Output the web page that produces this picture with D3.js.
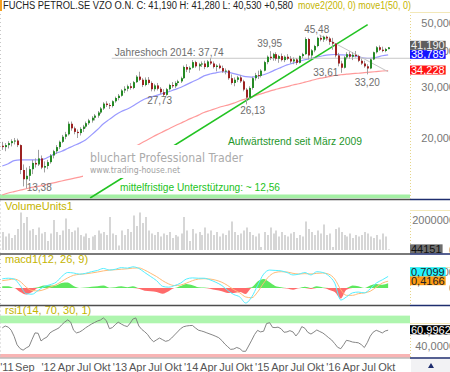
<!DOCTYPE html>
<html>
<head>
<meta charset="utf-8">
<script src="https://cdn.jsdelivr.net/npm/d3@7"></script>
<style>
  html, body { margin: 0; padding: 0; background: #fff; }
  svg { display: block; font-family: "Liberation Sans", Arial, sans-serif; }
</style>
</head>
<body>
<div id="chart"></div>
<script>
// ---- data (two candles per month, May 2011 .. first half Oct 2016) ----
var firstMonth = new Date(2011, 4, 1), endMonth = new Date(2016, 10, 1);

var open = [18.8,18.6,18.9,19.2,19.5,19.6,18.9,15.5,14.4,14.8,
  15.6,16.4,16.2,17.0,15.8,16.0,16.5,17.4,18.0,18.6,
  19.4,20.2,20.6,22.4,21.6,21.0,20.8,21.5,21.9,22.5,
  23.0,23.5,23.9,24.5,25.3,26.3,26.0,25.8,26.8,27.5,
  28.0,29.2,29.6,30.2,29.8,31.2,32.6,31.8,30.5,31.8,
  31.0,29.5,30.4,29.6,28.8,28.2,29.5,30.5,30.2,31.0,
  31.4,32.2,35.2,34.5,35.0,36.6,35.4,36.0,36.2,35.2,
  36.8,36.2,35.2,35.6,34.9,34.0,34.2,32.2,31.0,31.8,
  32.4,31.4,29.4,27.6,29.8,32.2,33.0,32.8,34.2,36.6,
  38.2,37.8,39.0,37.6,38.4,37.2,38.2,37.6,36.8,37.4,
  36.4,38.4,39.0,44.0,38.6,40.2,41.6,44.4,43.8,44.8,
  44.2,43.0,42.4,38.6,36.2,35.0,38.0,39.0,38.2,38.8,
  38.4,37.0,36.2,35.4,34.8,37.4,39.6,41.2,40.4,40.0,
  40.6];
var high = [19.4,19.2,19.5,19.8,20.0,19.9,19.0,16.2,15.8,16.0,
  16.8,17.0,18.2,17.4,16.6,16.8,17.6,18.2,18.9,19.6,
  20.5,21.0,22.8,22.8,21.9,21.4,21.8,22.2,22.8,23.3,
  23.8,24.2,24.8,25.6,26.6,26.8,26.4,27.0,27.8,28.4,
  29.5,30.2,30.6,31.0,31.5,33.0,33.9,32.2,32.4,32.5,
  31.4,30.8,31.0,30.0,29.5,29.8,30.8,31.2,31.4,31.8,
  32.6,35.6,36.0,35.4,37.2,37.0,36.4,36.8,37.0,37.2,
  37.74,36.8,36.0,36.2,35.6,34.8,34.4,33.2,32.4,32.8,
  33.0,31.8,29.8,30.2,32.6,33.6,34.2,34.6,37.0,38.6,
  39.95,39.4,39.6,38.8,39.2,38.6,39.0,38.4,38.0,37.8,
  38.6,39.4,44.6,44.4,40.6,42.0,44.8,45.48,45.2,45.2,
  44.8,44.4,42.6,39.4,37.0,38.4,39.6,39.8,39.6,40.0,
  38.8,37.6,37.0,36.0,37.6,39.8,41.6,41.8,41.4,41.0,
  41.28];
var low = [18.2,18.0,18.4,18.7,19.0,18.6,15.0,13.6,13.38,14.2,
  15.0,15.8,16.0,15.6,15.2,15.6,16.3,17.0,17.6,18.3,
  19.2,19.8,20.4,21.2,20.6,20.0,20.4,21.0,21.6,22.2,
  22.6,23.0,23.5,24.2,25.0,25.6,25.2,25.5,26.5,27.0,
  27.8,28.6,29.0,29.4,29.5,31.0,31.5,30.0,30.2,30.6,
  29.0,29.0,29.2,28.4,27.73,28.0,29.2,29.8,29.8,30.4,
  31.0,32.0,33.8,33.6,34.8,35.0,34.2,35.2,34.6,35.0,
  35.8,34.8,34.0,34.6,33.6,33.2,31.8,30.6,30.2,31.2,
  31.0,29.0,26.13,27.2,29.4,31.6,32.0,32.4,34.0,36.0,
  37.2,37.0,37.0,36.4,36.8,36.6,37.2,36.2,36.0,35.8,
  36.2,37.8,38.8,37.4,37.6,39.6,41.2,43.2,43.0,43.4,
  42.0,40.4,38.0,35.4,33.61,34.8,37.4,37.6,37.2,38.0,
  36.6,35.8,35.0,33.2,34.6,37.2,39.2,40.0,39.6,39.6,
  40.53];
var close = [18.6,18.9,19.2,19.5,19.6,18.9,15.5,14.4,14.8,15.6,
  16.4,16.2,17.0,15.8,16.0,16.5,17.4,18.0,18.6,19.4,
  20.2,20.6,22.4,21.6,21.0,20.8,21.5,21.9,22.5,23.0,
  23.5,23.9,24.5,25.3,26.3,26.0,25.8,26.8,27.5,28.0,
  29.2,29.6,30.2,29.8,31.2,32.6,31.8,30.5,31.8,31.0,
  29.5,30.4,29.6,28.8,28.2,29.5,30.5,30.2,31.0,31.4,
  32.2,35.2,34.5,35.0,36.6,35.4,36.0,36.2,35.2,36.8,
  36.2,35.2,35.6,34.9,34.0,34.2,32.2,31.0,31.8,32.4,
  31.4,29.4,27.6,29.8,32.2,33.0,32.8,34.2,36.6,38.2,
  37.8,39.0,37.6,38.4,37.2,38.2,37.6,36.8,37.4,36.4,
  38.4,39.0,44.0,38.6,40.2,41.6,44.4,43.8,44.8,44.2,
  43.0,42.4,38.6,36.2,35.0,38.0,39.0,38.2,38.8,38.4,
  37.0,36.2,35.4,34.8,37.4,39.6,41.2,40.4,40.0,40.61,
  41.19];
var volume = [1.2e6,0.9e6,1.1e6,0.8e6,1.0e6,1.4e6,2.5e6,1.8e6,2.2e6,1.3e6,
  1.4e6,1.0e6,1.5e6,1.1e6,1.2e6,0.6e6,1.1e6,2.0e6,1.2e6,1.0e6,
  1.3e6,2.1e6,1.4e6,1.2e6,1.3e6,1.5e6,1.0e6,0.9e6,1.1e6,0.8e6,
  0.9e6,1.0e6,1.3e6,1.1e6,1.2e6,1.0e6,2.2e6,1.1e6,1.0e6,0.3e6,
  1.3e6,1.0e6,1.4e6,1.2e6,2.3e6,1.6e6,2.5e6,1.8e6,2.2e6,1.3e6,
  1.1e6,1.0e6,1.2e6,0.9e6,1.1e6,1.0e6,1.2e6,0.8e6,1.0e6,0.9e6,
  1.1e6,2.2e6,1.3e6,0.6e6,1.4e6,1.1e6,1.2e6,1.0e6,1.5e6,1.1e6,
  1.3e6,1.0e6,1.2e6,0.9e6,1.1e6,1.0e6,1.3e6,1.9e6,1.2e6,1.0e6,
  1.1e6,1.3e6,1.5e6,1.2e6,1.0e6,0.9e6,1.1e6,0.2e6,1.2e6,1.0e6,
  1.5e6,1.1e6,1.3e6,0.9e6,1.2e6,1.0e6,0.9e6,1.1e6,1.2e6,0.8e6,
  1.0e6,0.9e6,1.9e6,1.4e6,1.2e6,1.0e6,1.3e6,1.1e6,1.7e6,1.0e6,
  1.1e6,0.2e6,1.4e6,1.5e6,1.2e6,1.0e6,0.9e6,1.1e6,0.8e6,1.0e6,
  0.9e6,1.0e6,1.2e6,1.1e6,0.9e6,0.8e6,1.0e6,0.7e6,1.1e6,0.9e6,
  44151];
var rsi = [64,66.5,65,61,53,42,37,35,38,40,
  49,57.5,57,47,50,52,57.5,60,62,64,
  68,71.5,74.5,71.5,61,57.5,58.7,61,64,66.5,
  69,71,73,74.3,77,73.5,63,64.4,68.3,71.5,
  69,67,65.7,70.4,75.5,77,66.5,62,59,55.4,
  49.5,46,48.5,50.8,48.6,46.5,47.6,50.8,54.8,58.7,
  63,65.5,66.5,67,67.2,64,61,60,59,57.5,
  56,54.6,53,51.2,47.5,43,39.5,36,36.5,38.5,
  37,33.6,33.5,40.4,48,55.5,60.8,58.8,59.7,69.6,
  70.8,64.7,64.4,65,62.8,58.3,58.8,60.4,58.7,53.5,
  58.2,65.7,63.5,58.2,56,58.5,61.3,59.3,57.4,54.4,
  51.2,48.3,43.5,38.7,36.9,42.2,47.8,47,45.6,45.1,
  44.6,42.3,38.4,44.8,53.2,58.4,60.9,59.4,57.4,60,
  60.9962];

// one value per month (first candle of each month)
var ma200 = [12.7,12.9,13.05,13.2,13.35,13.5,13.6,13.75,13.9,14.05,
  14.2,14.35,14.5,14.65,14.85,15.2,15.6,16.0,16.5,17.0,
  17.5,18.0,18.5,19.0,19.5,20.0,20.5,21.0,21.5,22.0,
  22.5,23.0,23.5,24.0,24.5,24.9,25.3,25.7,26.0,26.4,
  26.9,27.3,27.7,28.2,28.6,29.05,29.4,29.8,30.1,30.5,
  30.8,31.2,31.6,32.0,32.3,32.6,32.9,33.1,33.25,33.4,
  33.5,33.65,33.8,33.95,34.1,34.228];
var ma50 = [16.0,16.3,16.7,16.8,16.8,16.8,16.8,16.9,17.3,17.7,
  18.0,18.4,18.8,19.2,19.7,20.5,21.4,22.4,23.2,24.0,
  24.7,25.2,25.8,26.6,27.3,27.7,28.1,28.5,28.9,29.4,
  29.9,30.6,31.3,32.0,32.8,33.3,33.6,33.9,33.8,33.4,
  33.0,32.6,32.5,32.7,33.1,33.7,34.4,35.1,35.8,36.3,
  36.8,37.3,37.7,38.1,38.5,38.8,38.9,38.8,38.7,38.5,
  38.2,37.8,37.7,38.0,38.5,38.789];
var macdLine = [0.56,0.6,0.55,0.15,-0.35,-0.38,-0.15,0.08,0.2,0.35,
  0.7,0.95,0.92,0.85,0.9,1.0,1.08,1.2,1.1,1.15,
  1.25,1.22,1.3,1.2,0.95,0.7,0.45,0.1,0.05,0.15,
  0.3,0.55,0.62,0.6,0.6,0.5,0.35,0.15,-0.15,-0.4,
  -0.55,-0.92,-0.55,0.15,0.85,1.1,1.08,1.05,0.95,0.8,
  0.85,0.95,0.8,1.0,0.95,0.75,0.3,-0.74,-0.55,-0.3,
  -0.25,-0.3,-0.05,0.3,0.5,0.7099];
var signalLine = [0.45,0.5,0.55,0.4,0.05,-0.15,-0.18,-0.1,0.05,0.2,
  0.4,0.62,0.78,0.84,0.87,0.92,0.98,1.05,1.1,1.12,
  1.15,1.18,1.22,1.23,1.1,0.9,0.7,0.45,0.25,0.15,
  0.18,0.3,0.45,0.55,0.57,0.55,0.48,0.35,0.15,-0.1,
  -0.3,-0.55,-0.6,-0.25,0.3,0.75,0.95,1.0,0.98,0.9,
  0.86,0.88,0.86,0.9,0.92,0.85,0.55,-0.1,-0.45,-0.45,
  -0.35,-0.3,-0.2,0.05,0.3,0.4166];
var macdHist = [0.1,0.1,0.0,-0.25,-0.4,-0.25,0.05,0.15,0.15,0.15,
  0.3,0.33,0.12,0.0,0.03,0.08,0.1,0.15,0.02,0.05,
  0.1,0.05,0.1,-0.05,-0.17,-0.2,-0.25,-0.35,-0.2,0.0,
  0.12,0.25,0.17,0.05,0.03,-0.05,-0.13,-0.2,-0.3,-0.3,
  -0.25,-0.37,0.05,0.4,0.55,0.35,0.13,0.05,-0.03,-0.1,
  -0.01,0.07,-0.06,0.1,0.03,-0.1,-0.25,-0.64,-0.1,0.15,
  0.1,0.0,0.15,0.25,0.2,0.29];

// annotations
var extremeLabels = ["13,38", "27,73", "26,13", "39,95", "45,48", "33,61", "33,20"];
var extremeValues = [13.38, 27.73, 26.13, 39.95, 45.48, 33.61, 33.20];
var extremeIndex = [8, 54, 82, 90, 107, 114, 123];   // candle index
var yearHigh = 37.74, supportLevel = 12.56;
var trendUp = [["2012-08-01", 12.4], ["2016-06-25", 49.3]];
var trendDown = [["2015-10-20", 45.48], ["2016-10-08", 33.9]];
var yearHighFrom = "2012-11-20";

var xTickDates = ["2011-06-01","2011-09-01","2012-01-01","2012-04-01","2012-07-01","2012-10-01",
  "2013-01-01","2013-04-01","2013-07-01","2013-10-01","2014-01-01","2014-04-01","2014-07-01",
  "2014-10-01","2015-01-01","2015-04-01","2015-07-01","2015-10-01","2016-01-01","2016-04-01",
  "2016-07-01","2016-10-01"];
var xTickLabels = ["'11","Sep","'12","Apr","Jul","Okt","'13","Apr","Jul","Okt","'14","Apr","Jul",
  "Okt","'15","Apr","Jul","Okt","'16","Apr","Jul","Okt"];

// ---- layout ----
var W = 450, H = 372, plotR = 410;
var P = {
  main: {top: 14, bottom: 198.5},
  vol:  {top: 200.5, bottom: 253},
  macd: {top: 255, bottom: 304.5},
  rsi:  {top: 306.5, bottom: 357.5}
};
var OLIVE = "#c4b400";

var parse = d3.timeParse("%Y-%m-%d");
var candleDates = [];
d3.timeMonth.range(firstMonth, endMonth).forEach(function(m) {
  candleDates.push(new Date(m.getFullYear(), m.getMonth(), 8));
  candleDates.push(new Date(m.getFullYear(), m.getMonth(), 23));
});
candleDates.length = close.length;
var monthDates = candleDates.filter(function(d, i) { return i % 2 === 0; });

var de = d3.formatLocale({decimal: ",", thousands: ".", grouping: [3], currency: ["", ""]});
var f3 = de.format(".3f"), f4 = de.format(".4f");

var x = d3.scaleTime().domain([new Date(2011, 0, 1), new Date(2017, 0, 1)]).range([-22.5, 404.7]);
var y = d3.scaleLog().domain([12.5, 53.7]).range([197, 14]);
var yVol = d3.scaleLinear().domain([0, 2e6]).range([250, 220]);
var yMacd = d3.scaleLinear().domain([0, 1]).range([288, 271.7]);
var yRsi = d3.scaleLinear().domain([30, 70]).range([354, 323.3]);

var svg = d3.select("#chart").append("svg").attr("width", W).attr("height", H);
svg.append("rect").attr("width", W).attr("height", H).attr("fill", "#fff");
var defs = svg.append("defs");

function panel(id, p) {
  defs.append("clipPath").attr("id", id).append("rect")
    .attr("x", 0).attr("y", p.top).attr("width", plotR).attr("height", p.bottom - p.top);
  return svg.append("g").attr("clip-path", "url(#" + id + ")");
}

// ---- main price panel ----
var main = panel("clipMain", P.main);

main.append("line")
    .attr("x1", 0).attr("x2", plotR)
    .attr("y1", y(supportLevel)).attr("y2", y(supportLevel))
    .attr("stroke", "#a4f0a4").attr("stroke-width", 4);

var maLine = function(yScale) {
  return d3.line().x(function(d) { return x(d[0]); }).y(function(d) { return yScale(d[1]); })
    .curve(d3.curveMonotoneX);
};
main.append("path").datum(d3.zip(monthDates, ma200)).attr("d", maLine(y))
    .attr("fill", "none").attr("stroke", "#ff9a9a").attr("stroke-width", 1.2);
main.append("path").datum(d3.zip(monthDates, ma50)).attr("d", maLine(y))
    .attr("fill", "none").attr("stroke", "#9a9aff").attr("stroke-width", 1.2);

// trend lines
main.append("line")
    .attr("x1", x(parse(trendUp[0][0]))).attr("y1", y(trendUp[0][1]))
    .attr("x2", x(parse(trendUp[1][0]))).attr("y2", y(trendUp[1][1]))
    .attr("stroke", "#22c322").attr("stroke-width", 1.5);
main.append("line")
    .attr("x1", x(parse(trendDown[0][0]))).attr("y1", y(trendDown[0][1]))
    .attr("x2", x(parse(trendDown[1][0]))).attr("y2", y(trendDown[1][1]))
    .attr("stroke", "#c4c4c4").attr("stroke-width", 1);
main.append("line")
    .attr("x1", x(parse(yearHighFrom))).attr("x2", plotR)
    .attr("y1", y(yearHigh)).attr("y2", y(yearHigh))
    .attr("stroke", "#c8c8c8").attr("stroke-width", 1);

// watermark (covers the lines behind it)
main.append("rect").attr("x", 83).attr("y", 145).attr("width", 162).attr("height", 33).attr("fill", "#fff");
main.append("text").attr("x", 90).attr("y", 161.5)
    .attr("font-family", "DejaVu Sans, Verdana, sans-serif").attr("font-size", 12.5)
    .attr("textLength", 153).attr("lengthAdjust", "spacingAndGlyphs")
    .attr("fill", "#ababab").text("bluchart Professional Trader");
main.append("text").attr("x", 90).attr("y", 172.5)
    .attr("font-family", "DejaVu Sans, Verdana, sans-serif").attr("font-size", 8.5)
    .attr("textLength", 90).attr("lengthAdjust", "spacingAndGlyphs")
    .attr("fill", "#a2a2a2").text("www.trading-house.net");

// candles
var candles = close.map(function(c, i) {
  return {date: candleDates[i], o: open[i], h: high[i], l: low[i], c: c};
});
main.append("g").selectAll("line").data(candles).join("line")
    .attr("x1", function(d) { return Math.round(x(d.date)) + 0.5; })
    .attr("x2", function(d) { return Math.round(x(d.date)) + 0.5; })
    .attr("y1", function(d) { return y(d.h); })
    .attr("y2", function(d) { return y(d.l); })
    .attr("stroke", "#a0a0a0").attr("stroke-width", 1);
main.append("g").selectAll("rect").data(candles).join("rect")
    .attr("x", function(d) { return Math.round(x(d.date)); })
    .attr("width", 2)
    .attr("y", function(d) { return y(Math.max(d.o, d.c)); })
    .attr("height", function(d) { return Math.max(1, Math.abs(y(d.o) - y(d.c))); })
    .attr("fill", function(d) { return d.c >= d.o ? "#258a25" : "#9c2222"; });

// annotations
var labelOffset = {"13,38": [13, 3], "27,73": [-3, 7], "26,13": [7, 9.5], "39,95": [0, -4],
                   "45,48": [-3, -1.7], "33,61": [-15, 3.2], "33,20": [0, 11.6]};
extremeLabels.forEach(function(t, i) {
  var o = labelOffset[t];
  main.append("text")
      .attr("x", x(candleDates[extremeIndex[i]]) + o[0])
      .attr("y", y(extremeValues[i]) + o[1])
      .attr("text-anchor", "middle").attr("font-size", 10).attr("fill", "#6e6e6e")
      .text(t);
});
main.append("text").attr("x", x(parse(yearHighFrom)) + 3).attr("y", y(yearHigh) - 2)
    .attr("font-size", 10).attr("fill", "#6e6e6e")
    .attr("textLength", 109).attr("lengthAdjust", "spacingAndGlyphs")
    .text("Jahreshoch 2014: " + de.format(".2f")(yearHigh));
main.append("text").attr("x", 228).attr("y", 145)
    .attr("font-size", 10).attr("fill", "#25962a")
    .attr("textLength", 134).attr("lengthAdjust", "spacingAndGlyphs")
    .text("Aufwärtstrend seit März 2009");
main.append("text").attr("x", 120).attr("y", 190.5)
    .attr("font-size", 10).attr("fill", "#22c322")
    .attr("textLength", 160).attr("lengthAdjust", "spacingAndGlyphs")
    .text("mittelfristige Unterstützung: ~ " + de.format(".2f")(supportLevel));

// ---- volume ----
var vol = panel("clipVol", P.vol);
vol.append("g").selectAll("rect").data(d3.zip(candleDates, volume)).join("rect")
    .attr("x", function(d) { return Math.round(x(d[0])); })
    .attr("width", 2)
    .attr("y", function(d) { return yVol(d[1]); })
    .attr("height", function(d) { return yVol(0) - yVol(d[1]); })
    .attr("fill", "#d6d6d6");

// ---- macd ----
var macd = panel("clipMacd", P.macd);
var histArea = function(sign) {
  return d3.area().x(function(d) { return x(d[0]); })
    .y0(yMacd(0))
    .y1(function(d) { return yMacd(sign > 0 ? Math.max(0, d[1]) : Math.min(0, d[1])); })
    .curve(d3.curveMonotoneX);
};
var histData = d3.zip(monthDates, macdHist);
macd.append("path").datum(histData).attr("d", histArea(1)).attr("fill", "#5ee85e");
macd.append("path").datum(histData).attr("d", histArea(-1)).attr("fill", "#ff6b6b");
macd.append("path").datum(d3.zip(monthDates, signalLine)).attr("d", maLine(yMacd))
    .attr("fill", "none").attr("stroke", "#ffbb77").attr("stroke-width", 1);
macd.append("path").datum(d3.zip(monthDates, macdLine)).attr("d", maLine(yMacd))
    .attr("fill", "none").attr("stroke", "#55eeff").attr("stroke-width", 1);

// ---- rsi ----
var rs = panel("clipRsi", P.rsi);
rs.append("rect").attr("x", 0).attr("width", plotR)
    .attr("y", yRsi(80)).attr("height", yRsi(70) - yRsi(80)).attr("fill", "#aef5ae");
rs.append("rect").attr("x", 0).attr("width", plotR)
    .attr("y", yRsi(30)).attr("height", yRsi(20) - yRsi(30)).attr("fill", "#f8b4b4");
rs.append("path").datum(d3.zip(candleDates, rsi))
    .attr("d", d3.line().x(function(d) { return x(d[0]); }).y(function(d) { return yRsi(d[1]); }))
    .attr("fill", "none").attr("stroke", "#777").attr("stroke-width", 0.9);

// ---- panel titles ----
svg.append("text").attr("x", 3).attr("y", 9).attr("font-size", 10).attr("fill", "#222")
    .attr("textLength", 290).attr("lengthAdjust", "spacingAndGlyphs")
    .text("FUCHS PETROL.SE VZO O.N. C: " + f3(close[close.length - 1]) + " H: " + f3(high[high.length - 1]) +
          " L: " + f3(low[low.length - 1]) + " +" + f3(close[close.length - 1] - close[close.length - 2]));
svg.append("text").attr("x", 298).attr("y", 9).attr("font-size", 10).attr("fill", OLIVE)
    .attr("textLength", 113).attr("lengthAdjust", "spacingAndGlyphs")
    .text("move2(200, 0) move1(50, 0)");
svg.append("rect").attr("x", 0).attr("y", 0).attr("width", 2).attr("height", 11).attr("fill", "#f5a020");

[["VolumeUnits1", 210], ["macd1(12, 26, 9)", 263], ["rsi1(14, 70, 30, 1)", 313.5]].forEach(function(t) {
  svg.append("text").attr("x", 5).attr("y", t[1]).attr("font-size", 11).attr("fill", OLIVE).text(t[0]);
});

// ---- right axis area ----
var axisTop = {main: 12, vol: 210, macd: 267, rsi: 323};
Object.keys(P).forEach(function(k) {
  var p = P[k];
  svg.append("line").attr("x1", plotR + 0.5).attr("x2", plotR + 0.5)
      .attr("y1", axisTop[k]).attr("y2", p.bottom)
      .attr("stroke", "#e6d58a").attr("stroke-dasharray", "1,2");
  svg.append("line").attr("x1", plotR).attr("x2", W)
      .attr("y1", axisTop[k] + 0.5).attr("y2", axisTop[k] + 0.5)
      .attr("stroke", "#f3e8b8");
  svg.append("line").attr("x1", 0.5).attr("x2", 0.5).attr("y1", p.top).attr("y2", p.bottom)
      .attr("stroke", "#c8c8c8").attr("stroke-dasharray", "1,3");
});

function ticks(vals, scale, fmtFn) {
  vals.forEach(function(v) {
    svg.append("text").attr("x", 455).attr("y", scale(v) + 4)
        .attr("text-anchor", "end").attr("font-size", 11).attr("fill", "#777")
        .text(fmtFn(v));
  });
}
ticks([20, 30, 40, 50], y, f3);
ticks([0, 2e6], yVol, function(v) { return v === 0 ? "0" : d3.format("d")(v); });
ticks([0, 1], yMacd, function(v) { return v === 0 ? "0" : f4(v); });
ticks([40, 60], yRsi, f4);

// current-value boxes, pushed apart when they collide
function valueBoxes(items, scale) {
  items.sort(function(a, b) { return a.v - b.v; });
  var prevTop = Infinity;
  items.forEach(function(it) {
    var cy = Math.min(scale(it.v) - 0.5, prevTop - 4.5);
    prevTop = cy - 4.5;
    var g = svg.append("g");
    var r = g.append("rect").attr("x", plotR).attr("y", cy - 4.5).attr("height", 9).attr("fill", it.bg);
    var t = g.append("text").attr("x", plotR + 1).attr("y", cy + 4).attr("font-size", 11)
        .attr("fill", it.fg).text(it.label);
    r.attr("width", t.node().getComputedTextLength() + 2);
  });
}
valueBoxes([
  {v: close[close.length - 1], label: f3(close[close.length - 1]), bg: "#5e5e5e", fg: "#f2f2f2"},
  {v: ma50[ma50.length - 1], label: f3(ma50[ma50.length - 1]), bg: "#1414ff", fg: "#fff"},
  {v: ma200[ma200.length - 1], label: f3(ma200[ma200.length - 1]), bg: "#ff1414", fg: "#fff"}
], y);
valueBoxes([{v: volume[volume.length - 1], label: String(volume[volume.length - 1]), bg: "#6e6e6e", fg: "#111"}], yVol);
valueBoxes([
  {v: macdLine[macdLine.length - 1], label: f4(macdLine[macdLine.length - 1]), bg: "#22f4ff", fg: "#222"},
  {v: signalLine[signalLine.length - 1], label: f4(signalLine[signalLine.length - 1]), bg: "#ff9c14", fg: "#222"}
], yMacd);
valueBoxes([{v: rsi[rsi.length - 1], label: f4(rsi[rsi.length - 1]), bg: "#000", fg: "#fff"}], yRsi);

// ---- separators ----
[199.5, 254, 305.5, 358].forEach(function(sy, i) {
  svg.append("line").attr("x1", 0).attr("x2", plotR).attr("y1", sy).attr("y2", sy)
      .attr("stroke", i === 3 ? "#9a9a9a" : "#4e4e4e").attr("stroke-width", i === 3 ? 1 : 1.6);
  svg.append("line").attr("x1", plotR).attr("x2", W).attr("y1", sy).attr("y2", sy)
      .attr("stroke", "#1e2d6e").attr("stroke-width", 1.4);
});

// ---- x axis ----
xTickDates.forEach(function(d, i) {
  svg.append("text").attr("x", x(parse(d))).attr("y", 370.5)
      .attr("text-anchor", "middle").attr("font-size", 11).attr("fill", "#555")
      .text(xTickLabels[i]);
});
svg.append("rect").attr("x", plotR + 1).attr("y", 359).attr("width", W - plotR - 1).attr("height", H - 359)
    .attr("fill", "#f2f2f4");
svg.append("path").attr("d", "M428,368 L431,363 L434,368 Z").attr("fill", "#1e2d6e");
</script>
</body>
</html>
